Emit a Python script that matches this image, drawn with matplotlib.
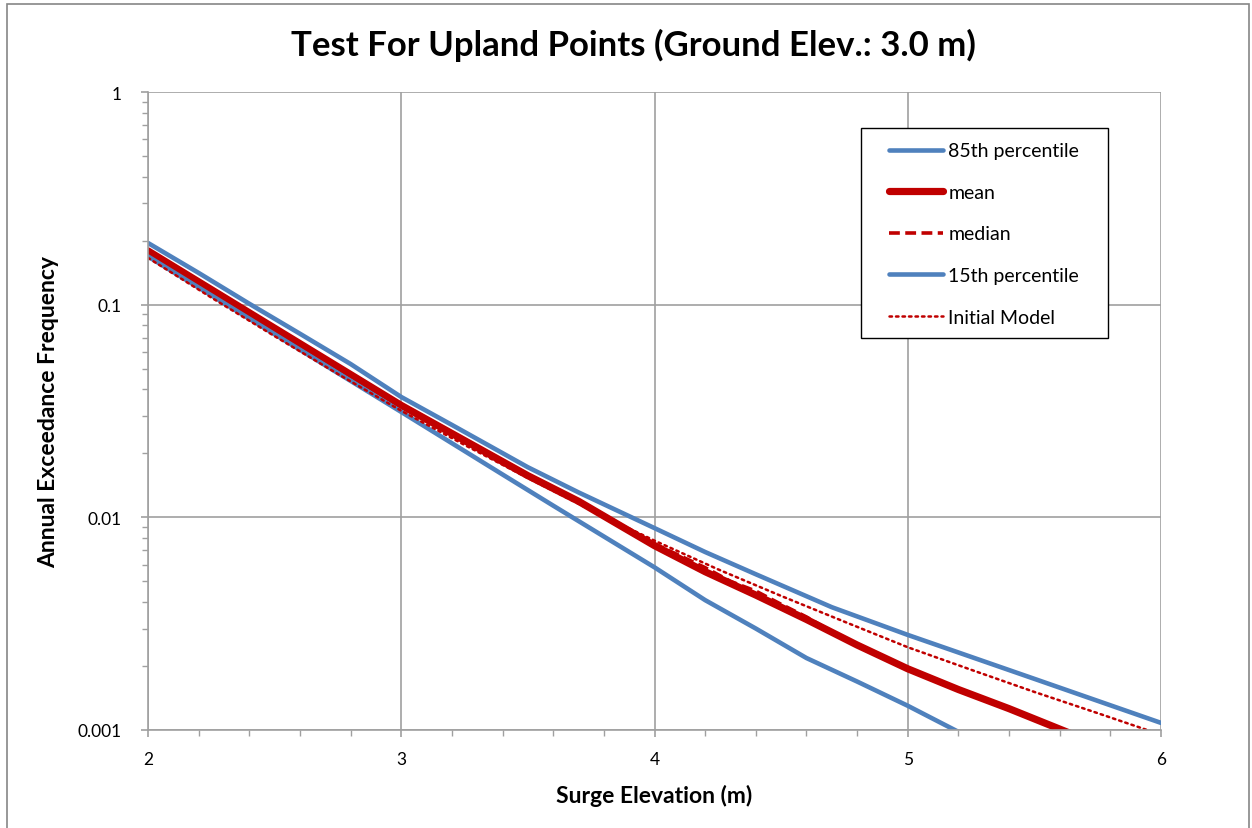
import matplotlib
matplotlib.use('Agg')
import matplotlib.pyplot as plt
from matplotlib.ticker import FixedLocator, MultipleLocator, LogLocator, NullFormatter
from matplotlib.patches import Rectangle

plt.rcParams['font.family'] = ['Lato', 'DejaVu Sans']

blue = '#4F81BD'
red = '#C00000'

# 85th percentile
x_p85 = [2.0, 2.2, 2.4, 2.6, 2.8, 3.0, 3.2, 3.5, 3.7, 4.0, 4.2, 4.4, 4.7, 5.0, 5.5, 6.0]
y_p85 = [0.195, 0.141, 0.101, 0.073, 0.0526, 0.0368, 0.0272, 0.0172, 0.0131,
         0.0089, 0.00687, 0.0054, 0.00378, 0.0028, 0.00174, 0.00108]

# mean
x_mean = [2.0, 2.5, 3.0, 3.5, 3.7, 4.0, 4.2, 4.4, 4.6, 4.8, 5.0, 5.2, 5.4, 5.6, 5.8, 6.0]
y_mean = [0.179, 0.0775, 0.0336, 0.0157, 0.0119, 0.00736, 0.00555, 0.00431, 0.00331,
          0.00251, 0.00194, 0.00155, 0.00126, 0.00101, 0.00081, 0.00066]

# median
x_median = [2.0, 2.5, 3.0, 3.5, 3.7, 4.0, 4.1, 4.2, 4.3, 4.4, 4.5, 4.6, 4.7, 4.8, 5.0,
            5.2, 5.4, 5.6, 5.8, 6.0]
y_median = [0.180, 0.0778, 0.0337, 0.0158, 0.0120, 0.0075, 0.0066, 0.0058, 0.0050, 0.0045,
            0.0039, 0.0034, 0.0029, 0.00252, 0.00194, 0.00155, 0.00126, 0.00101, 0.00081, 0.00066]

# 15th percentile
x_p15 = [2.0, 2.5, 3.0, 3.4, 3.6, 4.0, 4.2, 4.4, 4.6, 4.8, 5.0, 5.2, 5.4]
y_p15 = [0.1685, 0.0726, 0.0313, 0.0159, 0.01135, 0.00582, 0.00408, 0.0030, 0.00218,
         0.00169, 0.0013, 0.00098, 0.00075]

# initial model
x_init = [2.0, 2.25, 2.5, 2.75, 3.0, 3.25, 3.5, 3.75, 4.0, 4.25, 4.5, 4.75, 5.0, 5.25,
          5.5, 5.75, 6.0]
y_init = [0.166, 0.108, 0.0711, 0.0472, 0.0317, 0.0219, 0.0153, 0.0108, 0.00777, 0.00570,
          0.00427, 0.00323, 0.00245, 0.00192, 0.00151, 0.0012, 0.00095]

fig = plt.figure(figsize=(12.52, 8.29), dpi=100)
ax = fig.add_axes([148 / 1252, 1 - 731 / 829, (1161 - 148) / 1252, (731 - 93) / 829])

# outer chart border
fig.patches.append(Rectangle((7 / 1252, -0.01), 1242 / 1252, 1 - 5 / 829 + 0.01,
                             transform=fig.transFigure, fill=False,
                             edgecolor='#868686', linewidth=1.2))

ax.plot(x_p85, y_p85, color=blue, lw=3.3, label='85th percentile', solid_capstyle='round')
ax.plot(x_mean, y_mean, color=red, lw=5.2, label='mean', solid_capstyle='round')
ax.plot(x_median, y_median, color=red, lw=2.6, ls=(0, (3, 1.5)), label='median')
ax.plot(x_p15, y_p15, color=blue, lw=3.3, label='15th percentile', solid_capstyle='round')
ax.plot(x_init, y_init, color=red, lw=1.8, ls=(0, (1, 1.6)), label='Initial Model',
        dash_capstyle='round')

ax.set_yscale('log')
ax.set_xlim(2, 6)
ax.set_ylim(0.001, 1)

ax.xaxis.set_major_locator(FixedLocator([2, 3, 4, 5, 6]))
ax.xaxis.set_minor_locator(MultipleLocator(0.2))
ax.set_xticklabels(['2', '3', '4', '5', '6'])
ax.yaxis.set_major_locator(FixedLocator([0.001, 0.01, 0.1, 1]))
ax.yaxis.set_minor_locator(LogLocator(base=10, subs=range(2, 10)))
ax.yaxis.set_minor_formatter(NullFormatter())
ax.set_yticklabels(['0.001', '0.01', '0.1', '1'])

ax.grid(True, which='major', color='#A0A0A0', lw=1.2)
ax.set_axisbelow(True)
for s in ['top', 'right']:
    ax.spines[s].set_visible(False)
for s in ['left', 'bottom']:
    ax.spines[s].set_color('#A0A0A0')
    ax.spines[s].set_linewidth(1.2)
ax.tick_params(which='major', direction='out', length=5, width=1.2, color='#A0A0A0',
               labelsize=12.5, pad=10)
ax.tick_params(which='minor', direction='out', length=4, width=1.0, color='#A0A0A0')
ax.tick_params(axis='y', pad=14)

ax.set_xlabel('Surge Elevation (m)', fontsize=16.5, fontweight='bold', labelpad=12)
ax.set_ylabel('Annual Exceedance Frequency', fontsize=16.5, fontweight='bold', labelpad=13)
fig.text(633 / 1252, 1 - 45 / 829, 'Test For Upland Points (Ground Elev.: 3.0 m)',
         ha='center', va='center', fontsize=25, fontweight='bold')

# legend box drawn separately so the padding can match the original
box = Rectangle(((861 - 148) / 1013, (731 - 339) / 638), (1108 - 861) / 1013, 210 / 638,
                transform=ax.transAxes, facecolor='white', edgecolor='black', lw=1.0,
                zorder=4.9, clip_on=False)
ax.add_patch(box)
leg = ax.legend(loc='upper left', bbox_to_anchor=((889 - 148) / 1013, (731 - 143.5) / 638),
                fontsize=14, frameon=False, handlelength=2.8, handletextpad=0.25,
                labelspacing=1.26, borderpad=0, borderaxespad=0)
leg.set_zorder(5)

fig.savefig('out.png', dpi=100)
